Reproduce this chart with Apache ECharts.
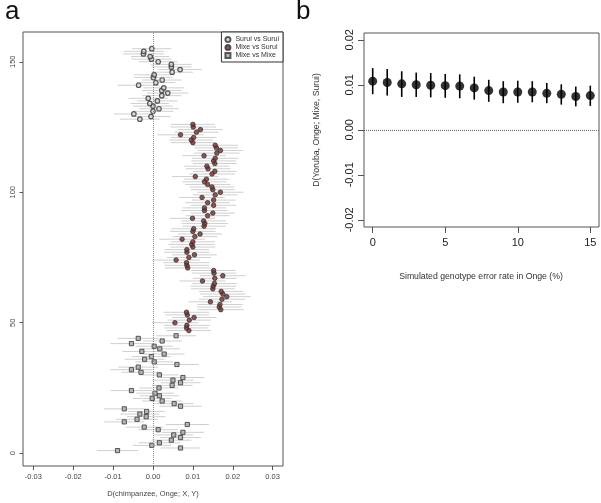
<!DOCTYPE html>
<html>
<head>
<meta charset="utf-8">
<script src="https://cdn.jsdelivr.net/npm/echarts@6/dist/echarts.min.js"></script>
<style>html,body{margin:0;padding:0;background:#fff}#c{width:601px;height:503px}</style>
</head>
<body>
<div id="c"></div>
<script>
// ---------- Panel a data (row index starts, values ascending by row) ----------
var mixeMixeStart = 1;
var mixeMixe = [-0.0089,0.0069,-0.0003,0.0016,0.0046,0.0069,0.0052,0.0075,0.0013,-0.0022,0.0086,-0.0072,-0.0040,-0.0017,-0.0033,-0.0016,-0.0072,0.0069,0.0053,0.0023,-0.0002,0.0016,0.0005,-0.0054,0.0015,0.0048,0.0069,0.0050,0.0075,0.0016,-0.0030,-0.0054,-0.0037,0.0060,0.0003,-0.0021,-0.0004,0.0028,-0.0028,0.0017,0.0003,-0.0054,0.0023,-0.0037,0.0058];
var mixeMixeErr = [0.0052,0.0050,0.0048,0.0052,0.0050,0.0051,0.0049,0.0053,0.0050,0.0047,0.0054,0.0050,0.0052,0.0048,0.0049,0.0046,0.0051,0.0053,0.0049,0.0050,0.0048,0.0050,0.0047,0.0052,0.0049,0.0051,0.0050,0.0052,0.0054,0.0048,0.0049,0.0053,0.0050,0.0055,0.0047,0.0050,0.0048,0.0051,0.0049,0.0050,0.0047,0.0053,0.0049,0.0052,0.0050];

var mixeSuruiStart = 47;
var mixeSurui = [0.0090,0.0084,0.0085,0.0055,0.0091,0.0103,0.0086,0.0084,0.0170,0.0166,0.0168,0.0144,0.0173,0.0185,0.0175,0.0171,0.0150,0.0151,0.0154,0.0124,0.0155,0.0175,0.0153,0.0152,0.0087,0.0085,0.0084,0.0058,0.0090,0.0104,0.0085,0.0085,0.0100,0.0097,0.0100,0.0073,0.0105,0.0118,0.0100,0.0102,0.0128,0.0130,0.0127,0.0099,0.0137,0.0150,0.0129,0.0129,0.0152,0.0137,0.0152,0.0123,0.0156,0.0169,0.0150,0.0148,0.0137,0.0129,0.0134,0.0106,0.0148,0.0155,0.0138,0.0135,0.0155,0.0152,0.0156,0.0128,0.0160,0.0169,0.0159,0.0156,0.0100,0.0096,0.0102,0.0069,0.0109,0.0119,0.0101,0.0100];
var mixeSuruiErr = [0.0056,0.0055,0.0057,0.0058,0.0054,0.0056,0.0055,0.0057,0.0058,0.0056,0.0057,0.0055,0.0058,0.0060,0.0057,0.0056,0.0055,0.0057,0.0056,0.0058,0.0055,0.0057,0.0056,0.0055,0.0057,0.0056,0.0058,0.0060,0.0055,0.0056,0.0057,0.0055,0.0056,0.0058,0.0055,0.0057,0.0056,0.0055,0.0057,0.0056,0.0055,0.0058,0.0056,0.0057,0.0055,0.0056,0.0058,0.0055,0.0057,0.0056,0.0055,0.0057,0.0056,0.0058,0.0055,0.0056,0.0057,0.0055,0.0056,0.0058,0.0057,0.0055,0.0056,0.0057,0.0055,0.0056,0.0058,0.0055,0.0057,0.0056,0.0055,0.0057,0.0056,0.0055,0.0057,0.0058,0.0055,0.0056,0.0057,0.0055];

var suruiSuruiStart = 128;
var suruiSurui = [-0.0033,-0.0005,-0.0048,0.0000,0.0015,0.0000,-0.0008,0.0011,-0.0012,0.0022,0.0037,0.0022,0.0027,-0.0036,0.0007,0.0023,0.0001,0.0003,0.0048,0.0068,0.0046,0.0046,0.0013,-0.0004,-0.0007,-0.0024,-0.0023,-0.0003];
var suruiSuruiErr = [0.0050,0.0049,0.0050,0.0051,0.0049,0.0050,0.0048,0.0051,0.0050,0.0049,0.0052,0.0050,0.0051,0.0053,0.0049,0.0050,0.0048,0.0051,0.0052,0.0054,0.0050,0.0051,0.0049,0.0050,0.0048,0.0051,0.0050,0.0049];

var aXTicks = [-0.03,-0.02,-0.01,0,0.01,0.02,0.03];
var aYTicks = [0,50,100,150];

// ---------- Panel b data ----------
var errorRate = [0,1,2,3,4,5,6,7,8,9,10,11,12,13,14,15];
var dValue = [0.0108,0.0105,0.0102,0.0100,0.0099,0.0098,0.0097,0.0093,0.0087,0.0084,0.0084,0.0084,0.0081,0.0079,0.0074,0.0076];
var dHigh  = [0.0137,0.0135,0.0130,0.0127,0.0126,0.0124,0.0123,0.0118,0.0111,0.0108,0.0109,0.0108,0.0104,0.0101,0.0096,0.0098];
var dLow   = [0.0079,0.0076,0.0073,0.0073,0.0072,0.0071,0.0070,0.0067,0.0062,0.0059,0.0060,0.0061,0.0059,0.0056,0.0052,0.0053];
var bXTicks = [0,5,10,15];
var bYTicks = [-0.02,-0.01,0,0.01,0.02];

function pts(vals, start){ return vals.map(function(v,i){ return [v, start+i]; }); }
function errs(vals, e, start){ return vals.map(function(v,i){ return [v-e[i], v+e[i], start+i]; }); }

function hBar(params, api){
  var p1 = api.coord([api.value(0), api.value(2)]);
  var p2 = api.coord([api.value(1), api.value(2)]);
  return {type:'line', shape:{x1:p1[0],y1:p1[1],x2:p2[0],y2:p2[1]}, style:{stroke:'#cfcfcf', lineWidth:1}};
}
function vBar(params, api){
  var p1 = api.coord([api.value(0), api.value(1)]);
  var p2 = api.coord([api.value(0), api.value(2)]);
  return {type:'line', shape:{x1:p1[0],y1:p1[1],x2:p2[0],y2:p2[1]}, style:{stroke:'#000', lineWidth:1.6}};
}

var FONT = 'Liberation Sans';
var chart = echarts.init(document.getElementById('c'), null, {renderer:'canvas'});

chart.setOption({
  animation:false,
  backgroundColor:'#fff',
  grid:[
    {left:23, top:32, width:260, height:434, show:true, borderColor:'#555', borderWidth:1, backgroundColor:'transparent'},
    {left:364, top:33, width:235, height:194, show:true, borderColor:'#555', borderWidth:1, backgroundColor:'transparent'}
  ],
  xAxis:[
    {type:'value', gridIndex:0, min:-0.0326, max:0.0326, splitLine:{show:false}, axisLine:{show:false, onZero:false},
     axisTick:{show:true, inside:false, length:4, customValues:aXTicks, lineStyle:{color:'#555'}},
     axisLabel:{customValues:aXTicks, margin:7, fontSize:7.5, fontFamily:FONT, color:'#444', formatter:function(v){return v.toFixed(2);}}},
    {type:'value', gridIndex:1, min:-0.6, max:15.6, splitLine:{show:false}, axisLine:{show:false, onZero:false},
     axisTick:{show:true, inside:false, length:6, customValues:bXTicks, lineStyle:{color:'#555'}},
     axisLabel:{customValues:bXTicks, margin:10, fontSize:11, fontFamily:FONT, color:'#222', formatter:function(v){return String(v);}}}
  ],
  yAxis:[
    {type:'value', gridIndex:0, min:-4.9, max:161.4, splitLine:{show:false}, axisLine:{show:false, onZero:false},
     axisTick:{show:true, inside:false, length:3.5, customValues:aYTicks, lineStyle:{color:'#555'}},
     axisLabel:{customValues:aYTicks, rotate:90, margin:6, fontSize:7.5, fontFamily:FONT, color:'#444', formatter:function(v){return String(v);}}},
    {type:'value', gridIndex:1, min:-0.0216, max:0.0215, splitLine:{show:false}, axisLine:{show:false, onZero:false},
     axisTick:{show:true, inside:false, length:6, customValues:bYTicks, lineStyle:{color:'#555'}},
     axisLabel:{customValues:bYTicks, rotate:90, margin:9, fontSize:11, fontFamily:FONT, color:'#222', formatter:function(v){return v.toFixed(2);}}}
  ],
  legend:{
    data:['Surui vs Surui','Mixe vs Surui','Mixe vs Mixe'],
    orient:'vertical', right:318, top:32, itemWidth:5, itemHeight:5, itemGap:1,
    padding:[4,4,3,3], borderColor:'#333', borderWidth:1, backgroundColor:'#fff',
    textStyle:{fontSize:7, fontFamily:FONT, color:'#333', lineHeight:7},
    selectedMode:false
  },
  graphic:[
    {type:'text', left:5, top:-1, style:{text:'a', font:'26px "Liberation Sans"', fill:'#111'}},
    {type:'text', left:296, top:-1, style:{text:'b', font:'26px "Liberation Sans"', fill:'#111'}},
    {type:'text', x:153, y:494, style:{text:'D(chimpanzee, Onge; X, Y)', font:'7.5px "Liberation Sans"', fill:'#444', textAlign:'center', textVerticalAlign:'middle'}},
    {type:'text', x:481, y:277, style:{text:'Simulated genotype error rate in Onge (%)', font:'8.7px "Liberation Sans"', fill:'#333', textAlign:'center', textVerticalAlign:'middle'}},
    {type:'text', x:317, y:130, rotation:Math.PI/2, style:{text:'D(Yoruba, Onge; Mixe, Surui)', font:'8.7px "Liberation Sans"', fill:'#333', textAlign:'center', textVerticalAlign:'middle'}}
  ],
  series:[
    {type:'custom', name:'errMM', xAxisIndex:0, yAxisIndex:0, renderItem:hBar, data:errs(mixeMixe, mixeMixeErr, mixeMixeStart), z:1, silent:true,
     markLine:{silent:true, symbol:'none', label:{show:false}, lineStyle:{type:'dotted', color:'#888', width:1}, data:[{xAxis:0}]}},
    {type:'custom', name:'errMS', xAxisIndex:0, yAxisIndex:0, renderItem:hBar, data:errs(mixeSurui, mixeSuruiErr, mixeSuruiStart), z:1, silent:true},
    {type:'custom', name:'errSS', xAxisIndex:0, yAxisIndex:0, renderItem:hBar, data:errs(suruiSurui, suruiSuruiErr, suruiSuruiStart), z:1, silent:true},
    {type:'scatter', name:'Surui vs Surui', xAxisIndex:0, yAxisIndex:0, symbol:'circle', symbolSize:4.5, z:3,
     itemStyle:{color:'#d8d8d8', borderColor:'#333', borderWidth:1.2}, data:pts(suruiSurui, suruiSuruiStart)},
    {type:'scatter', name:'Mixe vs Surui', xAxisIndex:0, yAxisIndex:0, symbol:'circle', symbolSize:4.5, z:3,
     itemStyle:{color:'#7f2a2a', borderColor:'#333', borderWidth:1}, data:pts(mixeSurui, mixeSuruiStart)},
    {type:'scatter', name:'Mixe vs Mixe', xAxisIndex:0, yAxisIndex:0, symbol:'rect', symbolSize:4.2, z:3,
     itemStyle:{color:'#a8a8a8', borderColor:'#333', borderWidth:1}, data:pts(mixeMixe, mixeMixeStart)},
    {type:'custom', name:'errB', xAxisIndex:1, yAxisIndex:1, renderItem:vBar, z:1, silent:true,
     data:errorRate.map(function(x,i){return [x, dLow[i], dHigh[i]];}),
     markLine:{silent:true, symbol:'none', label:{show:false}, lineStyle:{type:'dotted', color:'#666', width:1}, data:[{yAxis:0}]}},
    {type:'scatter', name:'bpts', xAxisIndex:1, yAxisIndex:1, symbol:'circle', symbolSize:9, z:3,
     itemStyle:{color:'#000'}, data:errorRate.map(function(x,i){return [x, dValue[i]];})}
  ]
});
</script>
</body>
</html>
